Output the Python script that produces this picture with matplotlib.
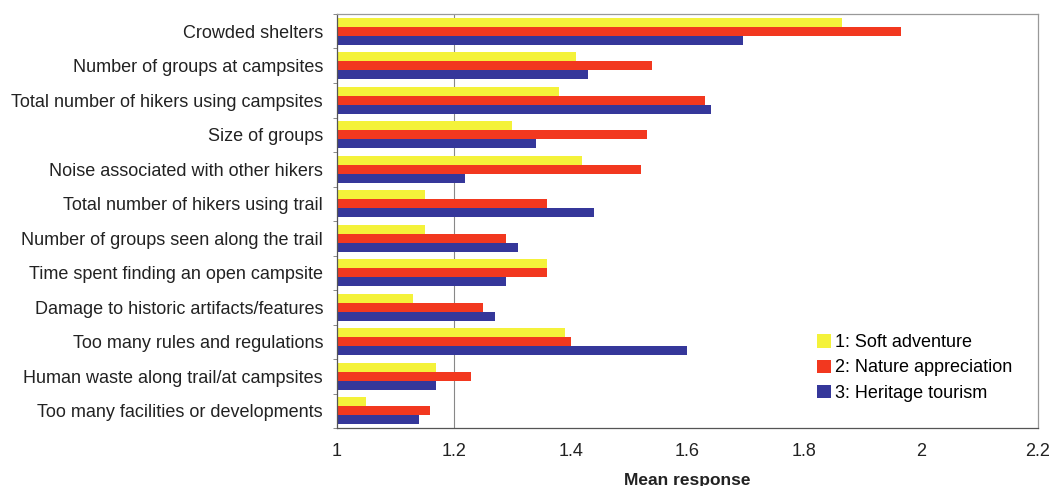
import matplotlib
matplotlib.use("Agg")
import matplotlib.pyplot as plt
import numpy as np
from matplotlib.ticker import FuncFormatter, FixedLocator

categories = [
    "Crowded shelters",
    "Number of groups at campsites",
    "Total number of hikers using campsites",
    "Size of groups",
    "Noise associated with other hikers",
    "Total number of hikers using trail",
    "Number of groups seen along the trail",
    "Time spent finding an open campsite",
    "Damage to historic artifacts/features",
    "Too many rules and regulations",
    "Human waste along trail/at campsites",
    "Too many facilities or developments",
]
soft_adventure = [1.865, 1.41, 1.38, 1.30, 1.42, 1.15, 1.15, 1.36, 1.13, 1.39, 1.17, 1.05]
nature_appreciation = [1.965, 1.54, 1.63, 1.53, 1.52, 1.36, 1.29, 1.36, 1.25, 1.40, 1.23, 1.16]
heritage_tourism = [1.695, 1.43, 1.64, 1.34, 1.22, 1.44, 1.31, 1.29, 1.27, 1.60, 1.17, 1.14]
series_labels = ["1: Soft adventure", "2: Nature appreciation", "3: Heritage tourism"]
xticks = [1, 1.2, 1.4, 1.6, 1.8, 2, 2.2]

colors = ["#F4F23A", "#F2381F", "#35379A"]

plt.rcParams['font.family'] = ['Liberation Sans', 'DejaVu Sans']

fig = plt.figure(figsize=(10.52, 4.86), dpi=100)
ax = fig.add_axes([0.3203, 0.1193, 0.6664, 0.8519])

n = len(categories)
y = np.arange(n)[::-1].astype(float)
h = 0.265
base = 1.0
for vals, off, c, lab in zip([soft_adventure, nature_appreciation, heritage_tourism],
                             [h, 0, -h], colors, series_labels):
    ax.barh(y + off, np.array(vals) - base, left=base, height=h, color=c,
            label=lab, edgecolor='none')

ax.set_xlim(1, 2.2)
ax.set_ylim(-0.5, n - 0.5)
ax.set_xticks(xticks)
ax.xaxis.set_major_formatter(FuncFormatter(lambda v, p: f"{v:g}"))
ax.tick_params(axis='x', length=0, pad=11, labelsize=13, colors='#222222')
ax.set_yticks(y)
ax.set_yticklabels(categories, fontsize=13, color='#222222')
ax.tick_params(axis='y', which='major', length=0, pad=10)
ax.yaxis.set_minor_locator(FixedLocator(np.arange(-0.5, n, 1.0)))
ax.tick_params(axis='y', which='minor', length=3, color='#777777')
ax.axvline(1.2, color='#888888', lw=0.8, zorder=0)

for s in ax.spines.values():
    s.set_color('#999999')
    s.set_linewidth(0.9)
ax.spines['left'].set_color('#555555')
ax.spines['bottom'].set_color('#555555')

ax.set_xlabel("Mean response", fontsize=12.5, fontweight='bold', labelpad=9, color='#222222')

leg = ax.legend(loc='center left', bbox_to_anchor=(0.675, 0.145), frameon=False,
                borderaxespad=0, fontsize=13, handlelength=0.75, handleheight=0.75,
                handletextpad=0.2, labelspacing=0.45)

fig.savefig("out.png", dpi=100)
